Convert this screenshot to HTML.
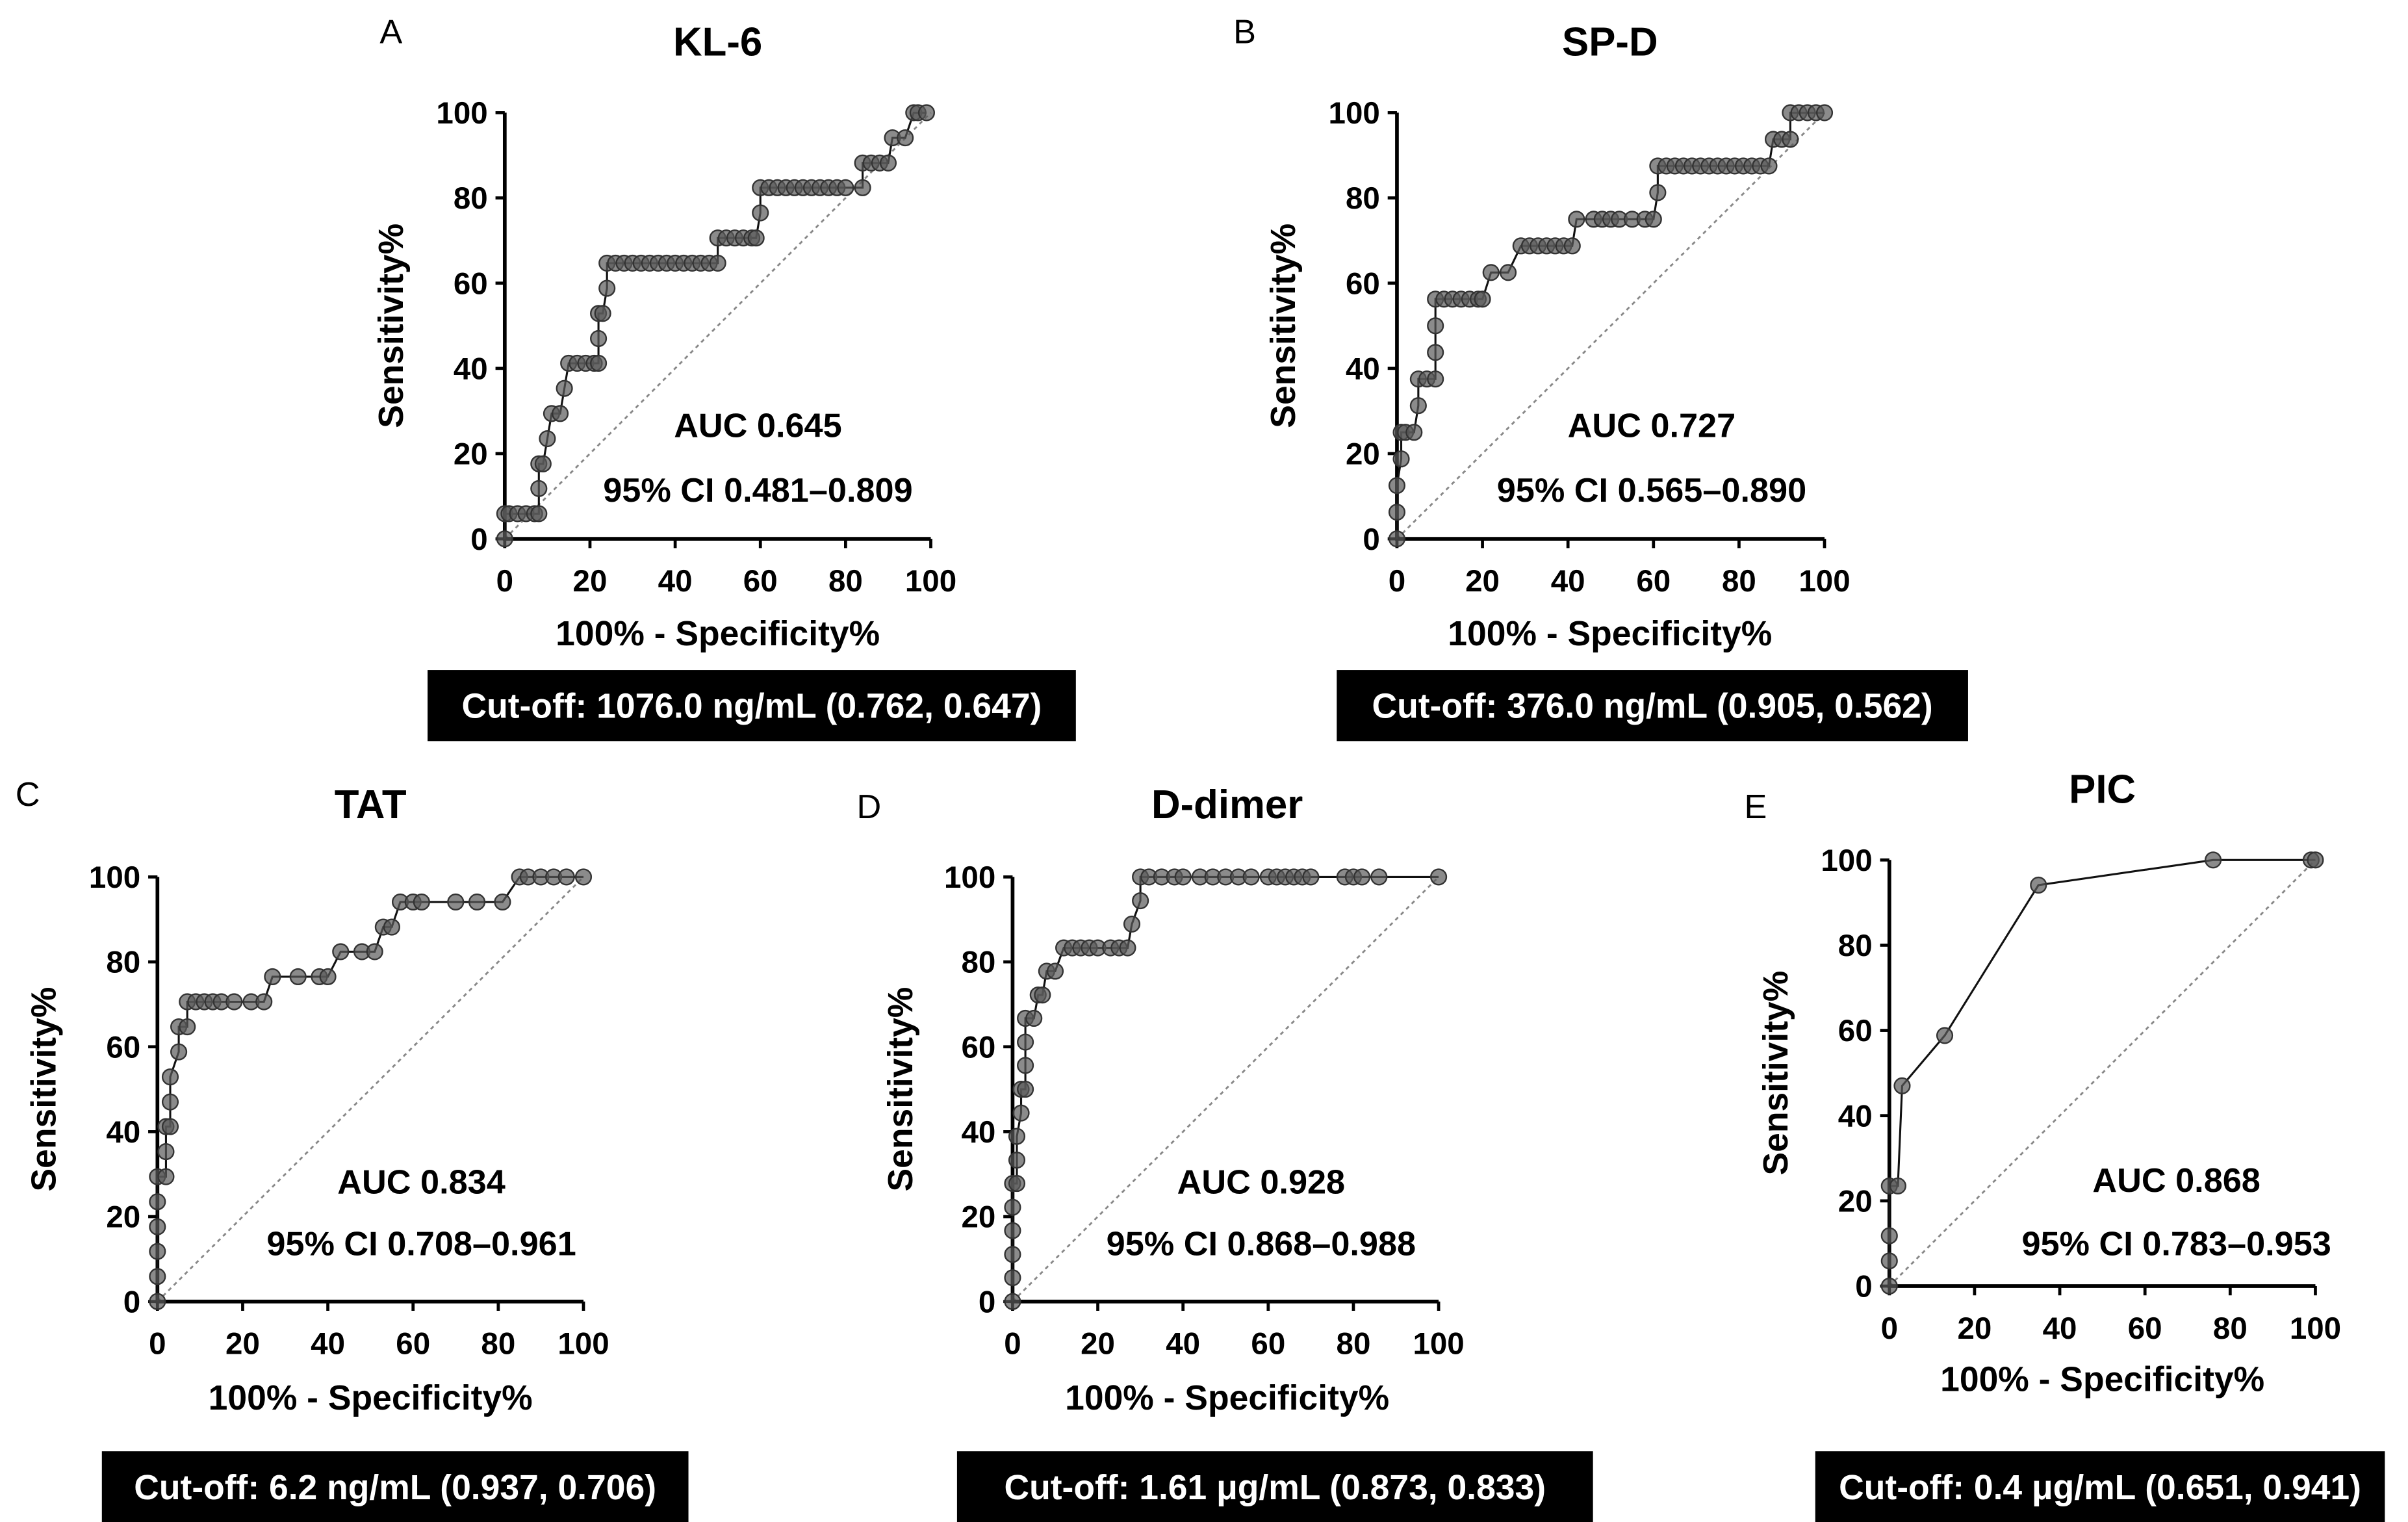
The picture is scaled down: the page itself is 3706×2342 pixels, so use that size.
<!DOCTYPE html>
<html><head><meta charset="utf-8">
<style>
html,body{margin:0;padding:0;background:#fff;}
svg{display:block;}
text{font-family:"Liberation Sans",Arial,sans-serif;}
</style></head>
<body>
<svg id="fig" width="3706" height="2342" viewBox="0 0 1560 985.8" preserveAspectRatio="none" xmlns="http://www.w3.org/2000/svg"></svg>
<script>
// ---- data ----
const klFpr = [0,0,1,3,5,7,8,8,8,9,10,11,13,14,15,17,19,21,22,22,22,23,24,24,26,28,30,32,34,36,38,40,42,44,46,48,50,50,52,54,56,58,59,60,60,62,64,66,68,70,72,74,76,78,80,84,84,86,88,90,91,94,96,97,99];
const klTpr = [0,5.9,5.9,5.9,5.9,5.9,5.9,11.8,17.6,17.6,23.5,29.4,29.4,35.3,41.2,41.2,41.2,41.2,41.2,47,52.9,52.9,58.8,64.7,64.7,64.7,64.7,64.7,64.7,64.7,64.7,64.7,64.7,64.7,64.7,64.7,64.7,70.6,70.6,70.6,70.6,70.6,70.6,76.5,82.4,82.4,82.4,82.4,82.4,82.4,82.4,82.4,82.4,82.4,82.4,82.4,88.2,88.2,88.2,88.2,94.1,94.1,100,100,100];
const spdFpr = [0,0,0,1,1,2,4,5,5,7,9,9,9,9,11,13,15,17,19,20,22,26,29,31,33,35,37,39,41,42,46,48,50,52,55,58,60,61,61,63,65,67,69,71,73,75,77,79,81,83,85,87,88,90,92,92,94,96,98,100];
const spdTpr = [0,6.25,12.5,18.75,25,25,25,31.25,37.5,37.5,37.5,43.75,50,56.25,56.25,56.25,56.25,56.25,56.25,56.25,62.5,62.5,68.75,68.75,68.75,68.75,68.75,68.75,68.75,75,75,75,75,75,75,75,75,81.25,87.5,87.5,87.5,87.5,87.5,87.5,87.5,87.5,87.5,87.5,87.5,87.5,87.5,87.5,93.75,93.75,93.75,100,100,100,100,100];
const tatFpr = [0,0,0,0,0,0,2,2,2,3,3,3,5,5,7,7,9,11,13,15,18,22,25,27,33,38,40,43,48,51,53,55,57,60,62,70,75,81,85,87,90,93,96,100];
const tatTpr = [0,5.9,11.8,17.6,23.5,29.4,29.4,35.3,41.2,41.2,47,52.9,58.8,64.7,64.7,70.6,70.6,70.6,70.6,70.6,70.6,70.6,70.6,76.5,76.5,76.5,76.5,82.4,82.4,82.4,88.2,88.2,94.1,94.1,94.1,94.1,94.1,94.1,100,100,100,100,100,100];
const ddFpr = [0,0,0,0,0,0,1,1,1,2,2,3,3,3,3,5,6,7,8,10,12,14,16,18,20,23,25,27,28,30,30,32,35,38,40,44,47,50,53,56,60,62,64,66,68,70,78,80,82,86,100];
const ddTpr = [0,5.6,11.1,16.7,22.2,27.8,27.8,33.3,38.9,44.4,50,50,55.6,61.1,66.7,66.7,72.2,72.2,77.8,77.8,83.3,83.3,83.3,83.3,83.3,83.3,83.3,83.3,88.9,94.4,100,100,100,100,100,100,100,100,100,100,100,100,100,100,100,100,100,100,100,100,100];
const picFpr = [0,0,0,0,2,3,13,35,76,99,100];
const picTpr = [0,5.9,11.8,23.5,23.5,47,58.8,94.1,100,100,100];
const ticks = [0,20,40,60,80,100];
const panels = [
 {id:'kl6',letter:'A',title:'KL-6',fpr:klFpr,tpr:klTpr,auc:'AUC 0.645',ci:'95% CI 0.481\u20130.809',cut:'Cut-off: 1076.0 ng/mL (0.762, 0.647)'},
 {id:'spd',letter:'B',title:'SP-D',fpr:spdFpr,tpr:spdTpr,auc:'AUC 0.727',ci:'95% CI 0.565\u20130.890',cut:'Cut-off: 376.0 ng/mL (0.905, 0.562)'},
 {id:'tat',letter:'C',title:'TAT',fpr:tatFpr,tpr:tatTpr,auc:'AUC 0.834',ci:'95% CI 0.708\u20130.961',cut:'Cut-off: 6.2 ng/mL (0.937, 0.706)'},
 {id:'ddimer',letter:'D',title:'D-dimer',fpr:ddFpr,tpr:ddTpr,auc:'AUC 0.928',ci:'95% CI 0.868\u20130.988',cut:'Cut-off: 1.61 \u03bcg/mL (0.873, 0.833)'},
 {id:'pic',letter:'E',title:'PIC',fpr:picFpr,tpr:picTpr,auc:'AUC 0.868',ci:'95% CI 0.783\u20130.953',cut:'Cut-off: 0.4 \u03bcg/mL (0.651, 0.941)'}
];
// ---- layout ----
const layout = {
 kl6:{x0:327,x1:603,y0:349,y1:73,lx:246,ly:28,tx:465,ty:36,ax:491,ay:283,cy:325,xl:465,xly:418,yl:261,bx:277,bw:420,by:434},
 spd:{x0:905,x1:1182,y0:349,y1:73,lx:799,ly:28,tx:1043,ty:36,ax:1070,ay:283,cy:325,xl:1043,xly:418,yl:839,bx:866,bw:409,by:434},
 tat:{x0:102,x1:378,y0:843,y1:568,lx:10,ly:522,tx:240,ty:530,ax:273,ay:773,cy:813,xl:240,xly:913,yl:36,bx:66,bw:380,by:940},
 ddimer:{x0:656,x1:932,y0:843,y1:568,lx:555,ly:530,tx:795,ty:530,ax:817,ay:773,cy:813,xl:795,xly:913,yl:591,bx:620,bw:412,by:940},
 pic:{x0:1224,x1:1500,y0:833,y1:557,lx:1130,ly:530,tx:1362,ty:520,ax:1410,ay:772,cy:813,xl:1362,xly:901,yl:1158,bx:1176,bw:369,by:940}
};
const NS='http://www.w3.org/2000/svg';
const svg=document.getElementById('fig');
function mk(tag,attrs,parent){const e=document.createElementNS(NS,tag);for(const k in attrs)e.setAttribute(k,attrs[k]);(parent||svg).appendChild(e);return e;}
function txt(s,attrs,parent){const e=mk('text',attrs,parent);e.textContent=s;return e;}
panels.forEach(p=>{
 const L=layout[p.id];
 const sx=v=>L.x0+(L.x1-L.x0)*v/100;
 const sy=v=>L.y0+(L.y1-L.y0)*v/100;
 const g=mk('g',{});
 
 
 const t1=txt(p.letter,{x:L.lx,y:L.ly,'font-size':22,fill:'#000'},g);
 
 
 const t2=txt(p.title,{x:L.tx,y:L.ty,'font-size':26,'font-weight':'bold','text-anchor':'middle'},g);
 
 
 const diag=mk('line',{x1:sx(0),y1:sy(0),x2:sx(100),y2:sy(100),stroke:'#888','stroke-width':1.2,'stroke-dasharray':'2.5,2.5'},g);
 
 
 const ax=mk('path',{d:`M${sx(0)},${sy(100)} V${sy(0)} H${sx(100)}`,fill:'none',stroke:'#000','stroke-width':2.4},g);
 
 
 ticks.forEach(t=>{
  mk('line',{x1:sx(0)-6,y1:sy(t),x2:sx(0),y2:sy(t),stroke:'#000','stroke-width':2},g);
  mk('line',{x1:sx(t),y1:sy(0),x2:sx(t),y2:sy(0)+6,stroke:'#000','stroke-width':2},g);
  const yt=txt(String(t),{x:sx(0)-11,y:sy(t)+7,'font-size':20,'font-weight':'bold','text-anchor':'end'},g);
  
  
  const xt=txt(String(t),{x:sx(t),y:sy(0)+34,'font-size':20,'font-weight':'bold','text-anchor':'middle'},g);
  
  
 });
 const xl=txt('100% - Specificity%',{x:L.xl,y:L.xly,'font-size':22.5,'font-weight':'bold','text-anchor':'middle'},g);
 
 
 const ymid=(L.y0+L.y1)/2;
 const yl=txt('Sensitivity%',{x:L.yl,y:ymid,'font-size':22.5,'font-weight':'bold','text-anchor':'middle',transform:`rotate(-90 ${L.yl} ${ymid})`},g);
 
 
 const pts=p.fpr.map((f,i)=>sx(f)+','+sy(p.tpr[i])).join(' ');
 const line=mk('polyline',{points:pts,fill:'none',stroke:'#111','stroke-width':1.3},g);
 
 
 p.fpr.forEach((f,i)=>{
  const c=mk('circle',{cx:sx(f),cy:sy(p.tpr[i]),r:5,fill:'rgba(90,90,90,0.7)',stroke:'#333','stroke-width':1},g);
  
  
 });
 const a=txt(p.auc,{x:L.ax,y:L.ay,'font-size':22,'font-weight':'bold','text-anchor':'middle'},g);
 
 
 const ci=txt(p.ci,{x:L.ax,y:L.cy,'font-size':22,'font-weight':'bold','text-anchor':'middle'},g);
 
 
 const r=mk('rect',{x:L.bx,y:L.by,width:L.bw,height:46,fill:'#000'},g);
 
 
 const ct=txt(p.cut,{x:L.bx+L.bw/2,y:L.by+31,'font-size':22.5,'font-weight':'bold','text-anchor':'middle',fill:'#fff'},g);
 
 
});
</script>
</body></html>
